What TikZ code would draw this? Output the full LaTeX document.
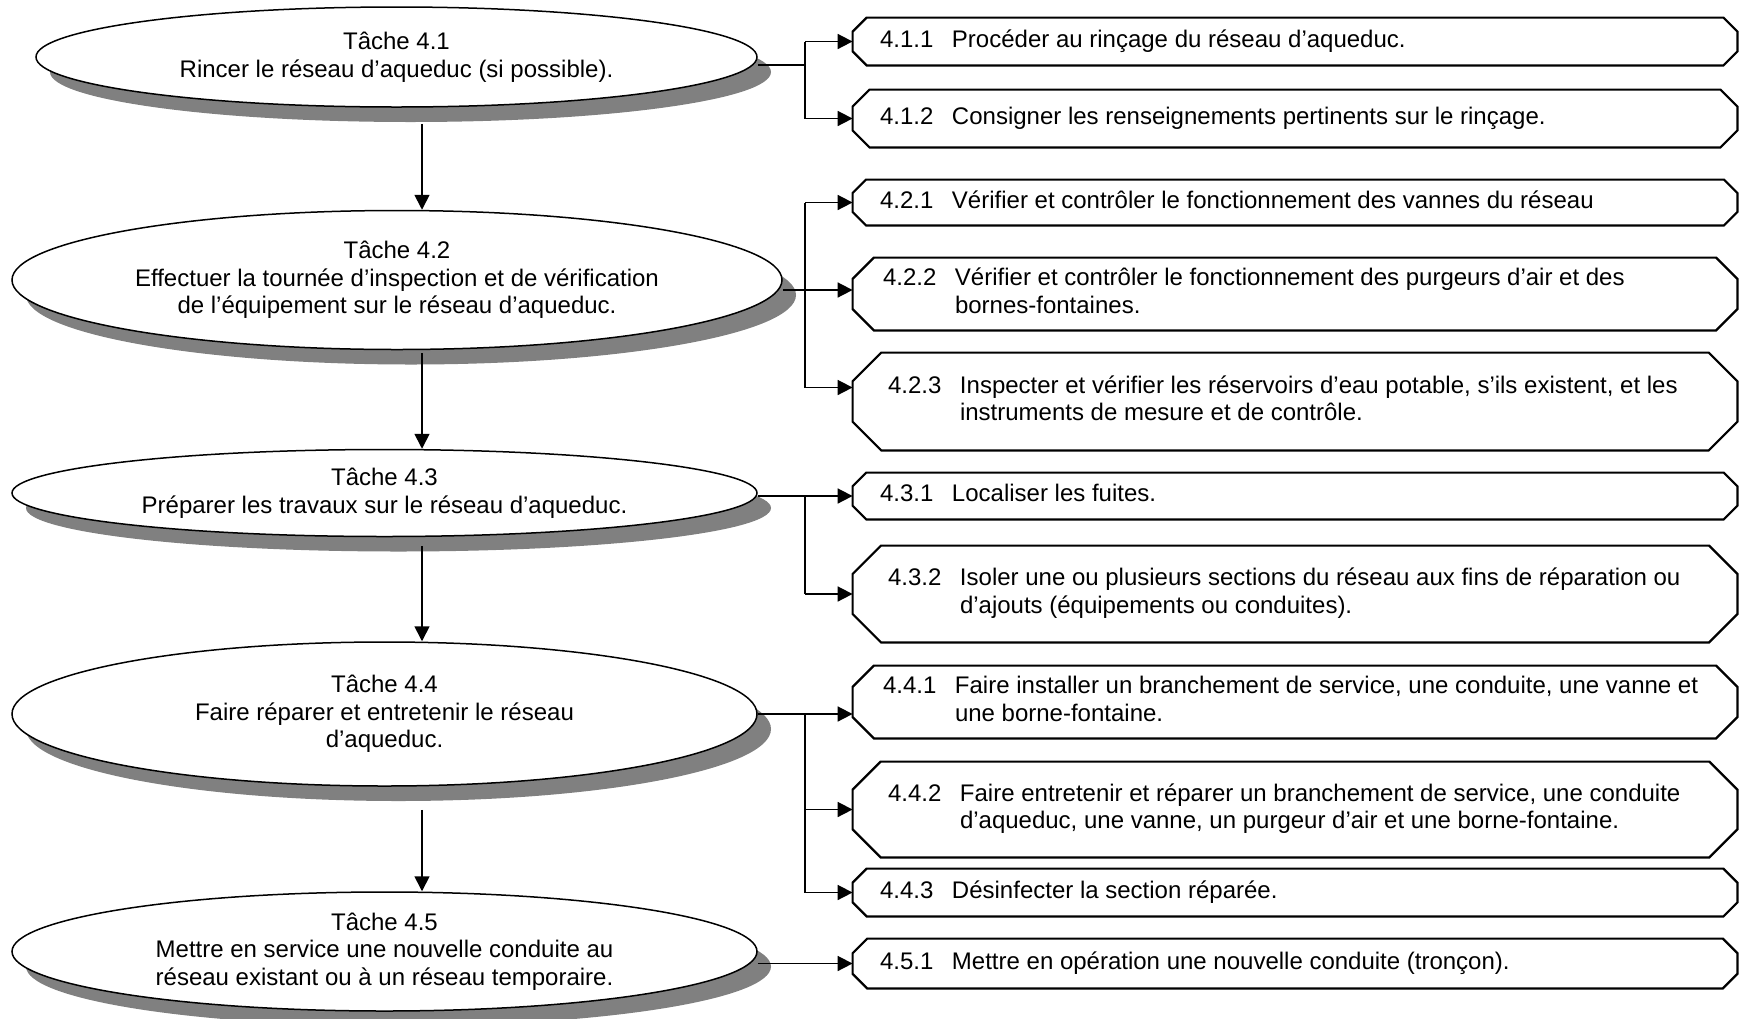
\documentclass[tikz,border=0pt]{standalone}
\usepackage{fontspec}
\setmainfont{Liberation Sans}
\usetikzlibrary{arrows.meta, calc, shapes.geometric, shadows}

% text of a sub-task: number column, then the wording
\newcommand{\boxtext}[3][13.5pt]{\makebox[442pt][l]{\hspace*{#1}\begin{tabular}{@{}p{36pt}@{}l@{}}#2 & #3\end{tabular}}}

\begin{document}
\begin{tikzpicture}[x=0.5pt,y=-0.5pt,
  font=\fontsize{12}{13.8}\selectfont,
  task/.style={ellipse, draw, line width=0.75pt, fill=white, inner sep=0pt, align=center,
    drop shadow={shadow xshift=7pt, shadow yshift=-7.5pt, fill=black!50, opacity=1}},
  sub/.style={rectangle, inner sep=0pt, minimum width=442pt},
  octo/.style={line width=1.1pt, line join=miter},
  link/.style={line width=0.85pt},
  flow/.style={link, -{Triangle[length=7.5pt,width=7.5pt]}}]
\path[use as bounding box] (0,0) rectangle (1740,1018);

% tasks
\node[task, minimum width=360.5pt, minimum height=50pt] (t41) at (396.5,57) {Tâche 4.1\\Rincer le réseau d’aqueduc (si possible).};
\node[task, minimum width=385pt, minimum height=69.5pt] (t42) at (397,280) {Tâche 4.2\\Effectuer la tournée d’inspection et de vérification\\de l’équipement sur le réseau d’aqueduc.};
\node[task, minimum width=372.5pt, minimum height=43.5pt] (t43) at (384.5,493) {Tâche 4.3\\Préparer les travaux sur le réseau d’aqueduc.};
\node[task, minimum width=372.5pt, minimum height=72pt] (t44) at (384.5,714) {Tâche 4.4\\Faire réparer et entretenir le réseau\\d’aqueduc.};
\node[task, minimum width=372.5pt, minimum height=59.5pt] (t45) at (384.5,951.5) {Tâche 4.5\\Mettre en service une nouvelle conduite au\\réseau existant ou à un réseau temporaire.};

% sub-tasks
\node[sub, minimum height=23.5pt] (s411) at (1295,41.5) {\boxtext{4.1.1}{Procéder au rinçage du réseau d’aqueduc.}};
\node[sub, minimum height=28.5pt] (s412) at (1295,118.5) {\boxtext{4.1.2}{Consigner les renseignements pertinents sur le rinçage.}};
\node[sub, minimum height=22.5pt] (s421) at (1295,202.5) {\boxtext{4.2.1}{Vérifier et contrôler le fonctionnement des vannes du réseau}};
\node[sub, minimum height=36pt] (s422) at (1295,294) {\boxtext[15pt]{4.2.2}{Vérifier et contrôler le fonctionnement des purgeurs d’air et des\\ & bornes-fontaines.}};
\node[sub, minimum height=48.5pt] (s423) at (1295,401.5) {\boxtext[17.5pt]{4.2.3}{Inspecter et vérifier les réservoirs d’eau potable, s’ils existent, et les\\ & instruments de mesure et de contrôle.}};
\node[sub, minimum height=23pt] (s431) at (1295,496) {\boxtext{4.3.1}{Localiser les fuites.}};
\node[sub, minimum height=48pt] (s432) at (1295,594) {\boxtext[17.5pt]{4.3.2}{Isoler une ou plusieurs sections du réseau aux fins de réparation ou\\ & d’ajouts (équipements ou conduites).}};
\node[sub, minimum height=36pt] (s441) at (1295,702) {\boxtext[15pt]{4.4.1}{Faire installer un branchement de service, une conduite, une vanne et\\ & une borne-fontaine.}};
\node[sub, minimum height=47.5pt] (s442) at (1295,809.5) {\boxtext[17.5pt]{4.4.2}{Faire entretenir et réparer un branchement de service, une conduite\\ & d’aqueduc, une vanne, un purgeur d’air et une borne-fontaine.}};
\node[sub, minimum height=23.5pt] (s443) at (1295,892.5) {\boxtext{4.4.3}{Désinfecter la section réparée.}};
\node[sub, minimum height=24.5pt] (s451) at (1295,963.5) {\boxtext{4.5.1}{Mettre en opération une nouvelle conduite (tronçon).}};

% octagon outlines
\foreach \b in {s411,s412,s421,s422,s423,s431,s432,s441,s442,s443,s451}
  \draw[octo] let \p1=(\b.north west), \p2=(\b.south east), \n1={0.293*(\y1-\y2)} in
    (\x1+\n1,\y1) -- (\x2-\n1,\y1) -- (\x2,\y1-\n1) -- (\x2,\y2+\n1)
    -- (\x2-\n1,\y2) -- (\x1+\n1,\y2) -- (\x1,\y2+\n1) -- (\x1,\y1-\n1) -- cycle;

% columns of the connectors
\coordinate (ax) at (422,0);
\coordinate (jx) at (805,0);
\coordinate (j41) at ($(jx |- t41.east)+(0,-4pt)$);
\coordinate (j42) at ($(jx |- t42.east)+(0,-5pt)$);
\coordinate (j423) at ($(jx |- s423.west)+(0,7pt)$);

% task to task
\draw[flow, shorten <=8pt] (ax |- t41.south) -- (ax |- t42.north);
\draw[flow, shorten <=1.5pt] (ax |- t42.south) -- (ax |- t43.north);
\draw[flow, shorten <=4.5pt] (ax |- t43.south) -- (ax |- t44.north);
\draw[flow, shorten <=11.5pt] (ax |- t44.south) -- (ax |- t45.north);

% 4.1
\draw[link] (t41.east |- j41) -- (j41);
\draw[link] (jx |- s411.west) -- (jx |- s412.west);
\draw[flow] (jx |- s411.west) -- (s411.west);
\draw[flow] (jx |- s412.west) -- (s412.west);

% 4.2
\draw[flow] (t42.east |- j42) -- (s422.west |- j42);
\draw[link] (jx |- s421.west) -- (j423);
\draw[flow] (jx |- s421.west) -- (s421.west);
\draw[flow] (j423) -- (j423 -| s423.west);

% 4.3
\draw[flow] (t43.east |- s431.west) -- (s431.west);
\draw[link] (jx |- s431.west) -- (jx |- s432.west);
\draw[flow] (jx |- s432.west) -- (s432.west);

% 4.4
\draw[flow] (t44.east) -- (t44.east -| s441.west);
\draw[link] (jx |- t44.east) -- (jx |- s443.west);
\draw[flow] (jx |- s442.west) -- (s442.west);
\draw[flow] (jx |- s443.west) -- (s443.west);

% 4.5
\draw[flow] (t45.east |- s451.west) -- (s451.west);
\end{tikzpicture}
\end{document}
